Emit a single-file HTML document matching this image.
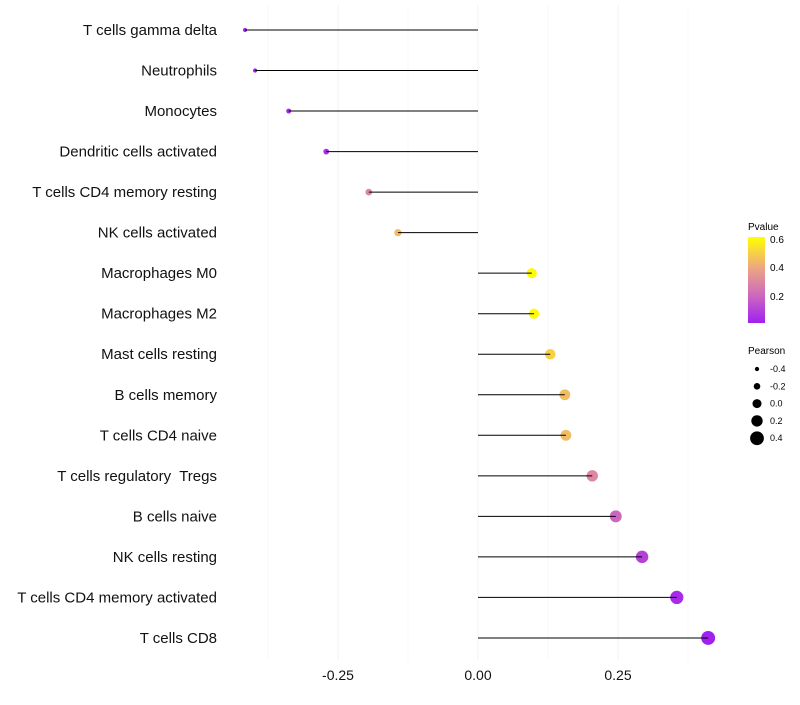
<!DOCTYPE html>
<html><head><meta charset="utf-8"><style>
body{margin:0;background:#fff;font-family:"Liberation Sans",sans-serif}
text{white-space:pre}
</style></head><body>
<svg id="chart" width="800" height="700" xmlns="http://www.w3.org/2000/svg">
<defs><linearGradient id="pg" x1="0" y1="1" x2="0" y2="0">
<stop offset="0" stop-color="#A020F0"/><stop offset="0.31" stop-color="#CC66C0"/><stop offset="0.65" stop-color="#EEA880"/><stop offset="1" stop-color="#FFFF00"/></linearGradient></defs>
<g id="grid"></g>
<g id="marks"></g>
<g id="ylabels"></g>
<g id="xlabels"></g>
<g font-size="10">
<text x="748" y="230" fill="#000">Pvalue</text>
<rect x="748" y="237" width="17" height="86" fill="url(#pg)"/>
<text x="770" y="243">0.6</text><text x="770" y="271">0.4</text><text x="770" y="300">0.2</text>
</g>
<g id="sizeleg" font-size="9">
<text x="748" y="354" font-size="10">Pearson</text>
</g>
</svg>
<script>
const categories=["T cells gamma delta","Neutrophils","Monocytes","Dendritic cells activated","T cells CD4 memory resting","NK cells activated","Macrophages M0","Macrophages M2","Mast cells resting","B cells memory","T cells CD4 naive","T cells regulatory  Tregs","B cells naive","NK cells resting","T cells CD4 memory activated","T cells CD8"];
const pearson=[-0.416,-0.398,-0.338,-0.271,-0.195,-0.143,0.096,0.100,0.129,0.155,0.157,0.204,0.246,0.293,0.355,0.411];
const pvalues=[0.01,0.01,0.03,0.05,0.3,0.45,0.6,0.6,0.5,0.45,0.45,0.3,0.2,0.1,0.04,0.01];
const xTicks=[-0.25,0,0.25];
const xTickLabels=["-0.25","0.00","0.25"];
const sizeLegVals=[-0.4,-0.2,0,0.2,0.4];
const sizeLegLabels=["-0.4","-0.2","0.0","0.2","0.4"];
const NS="http://www.w3.org/2000/svg";
const X=v=>478+v*560;
const Y=i=>30+i*40.53;
const R=v=>2+(v+0.42)/0.84*5;
function col(p){const st=[[0.01,[160,32,240]],[0.2,[204,102,192]],[0.4,[238,168,128]],[0.61,[255,255,0]]];
 p=Math.max(0.01,Math.min(0.61,p));for(let k=0;k<st.length-1;k++){const a=st[k],b=st[k+1];if(p<=b[0]){const t=(p-a[0])/(b[0]-a[0]);return "rgb("+a[1].map((c,j)=>Math.round(c+(b[1][j]-c)*t)).join(",")+")";}}return "rgb(255,255,0)";}
function mk(t,a,parent){const e=document.createElementNS(NS,t);for(const k in a)e.setAttribute(k,a[k]);parent.appendChild(e);return e;}
const grid=document.getElementById('grid'),marks=document.getElementById('marks'),yl=document.getElementById('ylabels'),xl=document.getElementById('xlabels'),sl=document.getElementById('sizeleg');
for(let v=-0.375;v<=0.38;v+=0.125){const g=mk('line',{x1:X(v),x2:X(v),y1:5,y2:660,stroke:"#f2f2f2","stroke-width":Math.abs((v/0.25)%1)<1e-6?0.9:0.5},grid);
}
categories.forEach((c,i)=>{
 const p=mk('circle',{cx:X(pearson[i]),cy:Y(i),r:R(pearson[i]),fill:col(pvalues[i])},marks);
 
 const l=mk('line',{x1:X(0),x2:X(pearson[i]),y1:Y(i),y2:Y(i),stroke:"#000","stroke-width":1},marks);
 
 const t=mk('text',{x:217,y:Y(i)+5,"text-anchor":"end","font-size":15,fill:"#111"},yl);t.textContent=c;
 
});
xTicks.forEach((v,i)=>{const t=mk('text',{x:X(v),y:680,"text-anchor":"middle","font-size":14,fill:"#111"},xl);t.textContent=xTickLabels[i];
 });
sizeLegVals.forEach((v,i)=>{const cy=369+i*17.3;
 const c=mk('circle',{cx:757,cy:cy,r:R(v),fill:"#000"},sl);
 const t=mk('text',{x:770,y:cy+3},sl);t.textContent=sizeLegLabels[i];});
</script>
</body></html>
